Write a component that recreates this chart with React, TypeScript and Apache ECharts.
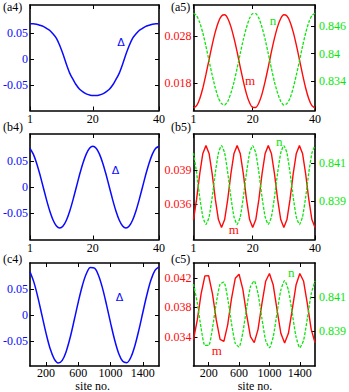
import React, { useEffect, useRef } from "react";
import * as echarts from "echarts";

// ---------- data ----------
const sitesAB = [1,2,3,4,5,6,7,8,9,10,11,12,13,14,15,16,17,18,19,20,21,22,23,24,25,26,27,28,29,30,31,32,33,34,35,36,37,38,39,40];
const sitesC = [0,50,100,150,200,250,300,350,400,450,500,550,600,650,700,750,800,850,900,950,1000,1050,1100,1150,1200,1250,1300,1350,1400,1450,1500,1550,1600];

const deltaA = [0.068,0.068,0.067,0.065,0.063,0.059,0.055,0.048,0.040,0.026,0.009,-0.010,-0.027,-0.039,-0.050,-0.058,-0.063,-0.067,-0.069,-0.070,-0.070,-0.069,-0.067,-0.063,-0.058,-0.050,-0.039,-0.027,-0.010,0.009,0.026,0.040,0.048,0.055,0.059,0.063,0.065,0.067,0.068,0.068];
const mA = [0.01270,0.01321,0.01468,0.01697,0.01985,0.02300,0.02610,0.02886,0.03097,0.03221,0.03247,0.03170,0.02997,0.02752,0.02460,0.02141,0.01836,0.01573,0.01383,0.01283,0.01283,0.01383,0.01573,0.01836,0.02141,0.02460,0.02752,0.02997,0.03170,0.03247,0.03221,0.03097,0.02886,0.02610,0.02300,0.01985,0.01697,0.01468,0.01321,0.01270];
const nA = [0.8488,0.8483,0.8468,0.8445,0.8416,0.8384,0.8353,0.8325,0.8303,0.8291,0.8288,0.8296,0.8314,0.8338,0.8368,0.8400,0.8431,0.8457,0.8477,0.8487,0.8487,0.8477,0.8457,0.8431,0.8400,0.8368,0.8338,0.8314,0.8296,0.8288,0.8291,0.8303,0.8325,0.8353,0.8384,0.8416,0.8445,0.8468,0.8483,0.8488];

const deltaB = [0.0751,0.0639,0.0464,0.0244,0,-0.0244,-0.0464,-0.0639,-0.0751,-0.079,-0.0751,-0.0639,-0.0464,-0.0244,0,0.0244,0.0464,0.0639,0.0751,0.079,0.0751,0.0639,0.0464,0.0244,0,-0.0244,-0.0464,-0.0639,-0.0751,-0.079,-0.0751,-0.0639,-0.0464,-0.0244,0,0.0244,0.0464,0.0639,0.0751,0.079];
const mB = [0.03468,0.03645,0.03865,0.04042,0.0411,0.04042,0.03865,0.03645,0.03468,0.0340,0.03468,0.03645,0.03865,0.04042,0.0411,0.04042,0.03865,0.03645,0.03468,0.0340,0.03468,0.03645,0.03865,0.04042,0.0411,0.04042,0.03865,0.03645,0.03468,0.0340,0.03468,0.03645,0.03865,0.04042,0.0411,0.04042,0.03865,0.03645,0.03468,0.0340];
const nB = [0.84151,0.84048,0.83922,0.83819,0.8378,0.83819,0.83922,0.84048,0.84151,0.8419,0.84151,0.84048,0.83922,0.83819,0.8378,0.83819,0.83922,0.84048,0.84151,0.8419,0.84151,0.84048,0.83922,0.83819,0.8378,0.83819,0.83922,0.84048,0.84151,0.8419,0.84151,0.84048,0.83922,0.83819,0.8378,0.83819,0.83922,0.84048,0.84151,0.8419];

const deltaC = [0.0836,0.0626,0.0327,-0.0018,-0.0360,-0.0652,-0.0850,-0.0929,-0.0878,-0.0700,-0.0425,-0.0088,0.0260,0.0572,0.0802,0.0919,0.0906,0.0765,0.0516,0.0192,-0.0158,-0.0484,-0.0744,-0.0897,-0.0923,-0.0823,-0.0599,-0.0294,0.0053,0.0391,0.0675,0.0864,0.0930];
const mC = [0.03369,0.03632,0.03982,0.04226,0.04227,0.03983,0.03632,0.03370,0.03342,0.03566,0.03915,0.04194,0.04248,0.04044,0.03700,0.03406,0.03326,0.03505,0.03844,0.04153,0.04259,0.04102,0.03772,0.03452,0.0332,0.03451,0.03772,0.04102,0.04259,0.04153,0.03844,0.03505,0.03326];
const nC = [0.84175,0.84066,0.83920,0.83819,0.83819,0.83920,0.84066,0.84174,0.84186,0.84093,0.83948,0.83832,0.83810,0.83895,0.84037,0.84159,0.84193,0.84118,0.83978,0.83849,0.83806,0.83870,0.84008,0.84140,0.84195,0.84140,0.84007,0.83870,0.83806,0.83849,0.83978,0.84118,0.84193];

const xTicksAB = [1, 20, 40];
const xTicksC = [200, 600, 1000, 1400];
const deltaTicks = [-0.05, 0, 0.05];
const mTicksA = [0.018, 0.028];
const nTicksA = [0.834, 0.84, 0.846];
const mTicksB = [0.036, 0.039];
const nTicksB = [0.839, 0.841];
const mTicksC = [0.034, 0.038, 0.042];
const nTicksC = [0.839, 0.841];

const panelNamesLeft = ["(a4)", "(b4)", "(c4)"];
const panelNamesRight = ["(a5)", "(b5)", "(c5)"];

// ---------- style ----------
const BLUE = "#0a0aff";
const RED = "#ff0a0a";
const GREEN = "#0ae60a";
const SERIF = "'Liberation Serif', serif";

const rows = [
  { top: 5, h: 105.5 },
  { top: 134, h: 105.5 },
  { top: 263, h: 103 },
];
const cols = [
  { left: 26, w: 133 },
  { left: 193.5, w: 123.5 },
];
const leftRanges = [
  [-0.099, 0.104],
  [-0.101, 0.1027],
  [-0.0987, 0.1006],
];
const mRanges = [
  [0.0122, 0.03455],
  [0.03295, 0.04211],
  [0.0301, 0.044],
];
const nRanges = [
  [0.8276, 0.8506],
  [0.83702, 0.8425],
  [0.837, 0.84297],
];

function pairs(xs: number[], ys: number[]) {
  return ys.map((y, i) => [xs[i], y]);
}

export default function App() {
  const ref = useRef<HTMLDivElement>(null);
  useEffect(() => {
    if (!ref.current) return;
    const chart = echarts.init(ref.current, undefined, { renderer: "svg" });

    const grids: any[] = [];
    const xAxes: any[] = [];
    const yAxes: any[] = [];
    const series: any[] = [];

    const rowData = [
      { xs: sitesAB, xr: [1, 40], xt: xTicksAB, d: deltaA, m: mA, n: nA, mt: mTicksA, nt: nTicksA },
      { xs: sitesAB, xr: [1, 40], xt: xTicksAB, d: deltaB, m: mB, n: nB, mt: mTicksB, nt: nTicksB },
      { xs: sitesC, xr: [0, 1600], xt: xTicksC, d: deltaC, m: mC, n: nC, mt: mTicksC, nt: nTicksC },
    ];

    const axisLine = { show: true, onZero: false, lineStyle: { color: "#000", width: 1.6 } };
    const tick = (vals: number[]) => ({ show: true, inside: true, length: 4, customValues: vals, lineStyle: { color: "#000", width: 1 } });
    const label = (vals: number[], color: string, show: boolean, margin: number) => ({
      show,
      customValues: vals,
      color,
      fontFamily: SERIF,
      fontSize: 12,
      margin,
      formatter: (v: number) => String(v),
    });

    rowData.forEach((r, ri) => {
      for (let ci = 0; ci < 2; ci++) {
        const gi = ri * 2 + ci;
        grids.push({ left: cols[ci].left, top: rows[ri].top, width: cols[ci].w, height: rows[ri].h, containLabel: false });
        xAxes.push({
          type: "value", gridIndex: gi, position: "bottom", min: r.xr[0], max: r.xr[1],
          axisLine, axisTick: tick(r.xt), axisLabel: label(r.xt, "#000", true, ri === 2 ? 1 : 2), splitLine: { show: false },
        });
        xAxes.push({
          type: "value", gridIndex: gi, position: "top", min: r.xr[0], max: r.xr[1],
          axisLine, axisTick: tick(r.xt), axisLabel: { show: false }, splitLine: { show: false },
        });
        if (ci === 0) {
          const yr = leftRanges[ri];
          yAxes.push({
            type: "value", gridIndex: gi, position: "left", min: yr[0], max: yr[1],
            axisLine, axisTick: tick(deltaTicks), axisLabel: label(deltaTicks, BLUE, true, 2), splitLine: { show: false },
          });
          yAxes.push({
            type: "value", gridIndex: gi, position: "right", min: yr[0], max: yr[1],
            axisLine, axisTick: tick(deltaTicks), axisLabel: { show: false }, splitLine: { show: false },
          });
          series.push({
            type: "line", xAxisIndex: gi * 2, yAxisIndex: gi * 2, data: pairs(r.xs, r.d),
            showSymbol: false, smooth: ri === 2 ? 0.35 : 0.2, lineStyle: { color: BLUE, width: 1.5 }, clip: true,
          });
        } else {
          const mr = mRanges[ri];
          const nr = nRanges[ri];
          yAxes.push({
            type: "value", gridIndex: gi, position: "left", min: mr[0], max: mr[1],
            axisLine, axisTick: tick(r.mt), axisLabel: label(r.mt, RED, true, 2), splitLine: { show: false },
          });
          yAxes.push({
            type: "value", gridIndex: gi, position: "right", min: nr[0], max: nr[1],
            axisLine, axisTick: tick(r.nt), axisLabel: label(r.nt, GREEN, true, 4), splitLine: { show: false },
          });
          series.push({
            type: "line", xAxisIndex: gi * 2, yAxisIndex: gi * 2, data: pairs(r.xs, r.m),
            showSymbol: false, smooth: ri === 0 ? 0.2 : false, lineStyle: { color: RED, width: 1.4 }, clip: true,
          });
          series.push({
            type: "line", xAxisIndex: gi * 2, yAxisIndex: gi * 2 + 1, data: pairs(r.xs, r.n),
            showSymbol: false, smooth: ri === 1 ? 0.15 : 0.2, lineStyle: { color: GREEN, width: 1.3, type: [3, 1.5] }, clip: true,
          });
        }
      }
    });

    const txt = (x: number, y: number, s: string, color: string, size: number, family = SERIF, align = "center") => ({
      type: "text", x, y,
      style: { text: s, fill: color, fontSize: size, fontFamily: family, align, verticalAlign: "middle" },
    });

    const labelY = [7, 127, 259];
    const graphic: any[] = [];
    labelY.forEach((y, i) => {
      graphic.push(txt(3, y, panelNamesLeft[i], "#000", 12, SERIF, "left"));
      graphic.push(txt(171, y, panelNamesRight[i], "#000", 12, SERIF, "left"));
    });
    graphic.push(txt(121, 42, "Δ", BLUE, 11, "DejaVu Sans"));
    graphic.push(txt(115.5, 170, "Δ", BLUE, 11, "DejaVu Sans"));
    graphic.push(txt(119.5, 297.5, "Δ", BLUE, 11, "DejaVu Sans"));
    graphic.push(txt(273, 20, "n", GREEN, 13));
    graphic.push(txt(250, 80.5, "m", RED, 13));
    graphic.push(txt(279.3, 141, "n", GREEN, 13));
    graphic.push(txt(233.8, 229.5, "m", RED, 13));
    graphic.push(txt(291.3, 272, "n", GREEN, 13));
    graphic.push(txt(216.7, 350, "m", RED, 13));
    graphic.push(txt(92.7, 385.5, "site no.", "#000", 12));
    graphic.push(txt(255, 385.5, "site no.", "#000", 12));

    chart.setOption({
      animation: false,
      backgroundColor: "#fff",
      grid: grids,
      xAxis: xAxes,
      yAxis: yAxes,
      series,
      graphic,
    });
    return () => chart.dispose();
  }, []);

  return (
    <div
      ref={ref}
      style={{ position: "fixed", left: 0, top: 0, width: 349, height: 392, background: "#fff" }}
    />
  );
}
